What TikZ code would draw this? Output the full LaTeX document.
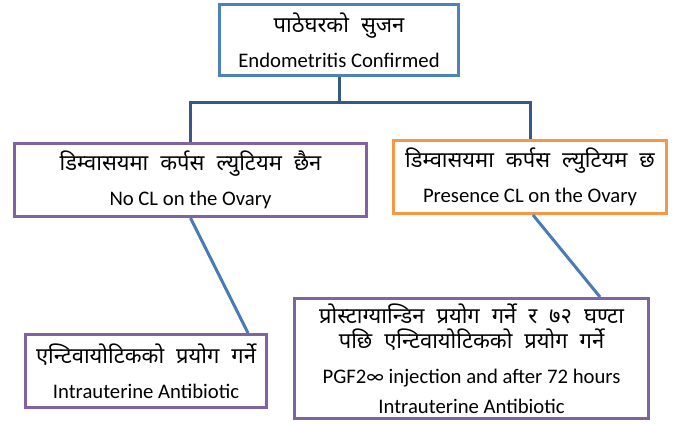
\documentclass[tikz,border=0pt]{standalone}
\usepackage{fontspec}
\setmainfont{Carlito}
\newfontfamily\deva[Script=Devanagari,Scale=1.06,WordSpace=2.1]{Noto Sans}
\usepackage{xcolor}
\definecolor{boxblue}{HTML}{4F81BD}
\definecolor{boxpurple}{HTML}{8064A2}
\definecolor{boxorange}{HTML}{F79646}
\colorlet{linkdark}{boxblue!70!black}
\colorlet{linkblue}{boxblue!95!black}
\tikzstyle{stage}=[draw,line width=3pt,rectangle,align=center,inner sep=0pt,
                   fill=white,font=\fontsize{20.7}{24.5}\selectfont]
\tikzset{
  stageTop/.style={stage,draw=boxblue},
  stageNo/.style={stage,draw=boxpurple},
  stageYes/.style={stage,draw=boxorange},
  treeLink/.style={line width=3pt,linkdark},
  treeStep/.style={line width=3pt,linkblue}}

\begin{document}
\begin{tikzpicture}[x=1pt,y=-1pt]
  \useasboundingbox (0,0) rectangle (679,425);
  \def\L{11pt}

  % BOXES
  \node[stageTop,minimum width=239,minimum height=71] (confirm) at (339,40)
    {{\deva पाठेघरको सुजन}\\[\L] Endometritis Confirmed};
  \node[stageNo,minimum width=352,minimum height=73] (noCL) at (190.5,180)
    {{\deva डिम्वासयमा कर्पस ल्युटियम छैन}\\[\L] No CL on the Ovary};
  \node[stageYes,minimum width=273,minimum height=73] (withCL) at (530,177)
    {{\deva डिम्वासयमा कर्पस ल्युटियम छ}\\[\L] Presence CL on the Ovary};
  \node[stageNo,minimum width=241,minimum height=73] (antibio) at (146,371)
    {{\deva एन्टिवायोटिकको प्रयोग गर्ने}\\[\L] Intrauterine Antibiotic};
  \node[stageNo,minimum width=354,minimum height=120] (pgf) at (471.5,358.5)
    {{\deva प्रोस्टाग्यान्डिन प्रयोग गर्ने र ७२ घण्टा}\\[0pt]
     {\deva पछि एन्टिवायोटिकको प्रयोग गर्ने}\\[\L]
     PGF2∞ injection and after 72 hours\\[5pt]
     Intrauterine Antibiotic};

  % CONNECTORS
  \begin{scope}[on background layer/.try]
    \draw[treeLink] (confirm.south) -- ++(0,26) -| (noCL.north);
    \draw[treeLink] (confirm.south) -- ++(0,26) -| (withCL.north);
    \draw[treeStep] (noCL.south) -- ([xshift=-20]antibio.north east);
    \draw[treeStep] ([xshift=3]withCL.south) -- ([xshift=-50]pgf.north east);
  \end{scope}

\end{tikzpicture}
\end{document}
